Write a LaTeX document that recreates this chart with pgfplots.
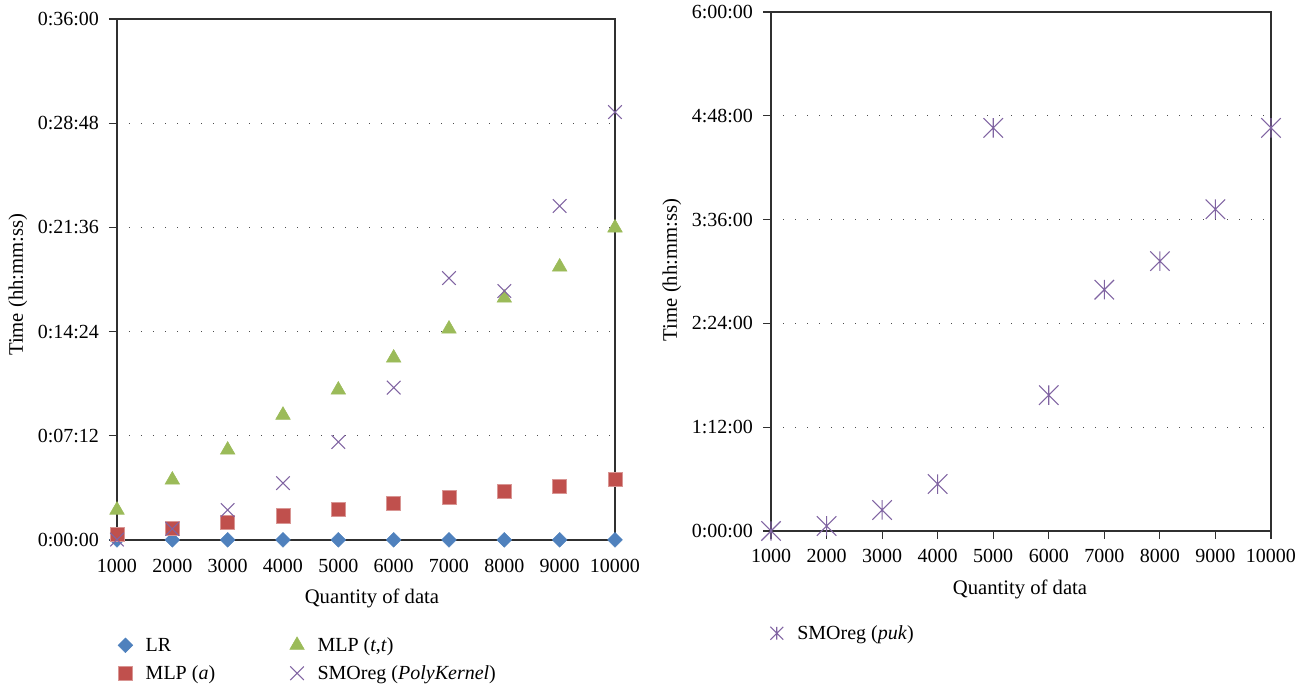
\documentclass[border=0pt]{standalone}
\usepackage{fontspec}
\setmainfont{Liberation Serif}
\usepackage{pgfplots}
\pgfplotsset{compat=1.18}
\definecolor{cLR}{HTML}{4F81BD}
\definecolor{cMa}{HTML}{C0504D}
\definecolor{cMtt}{HTML}{9BBB59}
\definecolor{cSMO}{HTML}{8064A2}
\definecolor{axc}{HTML}{303030}
\pgfdeclareplotmark{xstar}{%
  \pgfpathmoveto{\pgfqpoint{-\pgfplotmarksize}{-\pgfplotmarksize}}%
  \pgfpathlineto{\pgfqpoint{\pgfplotmarksize}{\pgfplotmarksize}}%
  \pgfpathmoveto{\pgfqpoint{-\pgfplotmarksize}{\pgfplotmarksize}}%
  \pgfpathlineto{\pgfqpoint{\pgfplotmarksize}{-\pgfplotmarksize}}%
  \pgfpathmoveto{\pgfqpoint{0pt}{-\pgfplotmarksize}}%
  \pgfpathlineto{\pgfqpoint{0pt}{\pgfplotmarksize}}%
  \pgfusepathqstroke}
\pgfplotsset{
  common/.style={
    scale only axis,
    clip=false,
    xmin=1, xmax=10,
    xtick={1,2,3,4,5,6,7,8,9,10},
    xticklabels={1000,2000,3000,4000,5000,6000,7000,8000,9000,10000},
    xtick pos=bottom, ytick pos=left,
    axis line style={axc, line width=0.8pt},
    tick style={axc, line width=0.8pt},
    ytick align=outside,
    major tick length=6pt,
    ymajorgrids,
    major grid style={black!70, line width=0.75pt, dash pattern=on 0.75pt off 8.25pt},
    yticklabel style={xshift=-4pt},
    xlabel={Quantity of data},
    ylabel={Time (hh:mm:ss)},
    label style={font=\fontsize{15.5}{18}\selectfont},
    legend style={draw=none, fill=none, inner sep=0pt, column sep=0pt,
      nodes={text height=11pt, text depth=4pt, inner ysep=3pt, inner xsep=4pt, anchor=base west}},
    legend cell align=left,
    legend image code/.code={\path (0pt,0pt) (22pt,10pt);\draw[mark repeat=2,mark phase=2,##1] plot coordinates {(0pt,5pt) (11pt,5pt) (22pt,5pt)};},
  },
  pukleg/.style={legend image code/.code={\path (0pt,0pt) (22pt,10pt);\draw[mark repeat=2,mark phase=2,##1,mark size=4.8pt] plot coordinates {(0pt,5pt) (11pt,5pt) (22pt,5pt)};}},
}
\begin{document}
\begin{tikzpicture}[font=\fontsize{15}{18}\selectfont]
\path[use as bounding box] (0,0) rectangle (980.25pt,516pt);
% ---------------- left axis ----------------
\begin{axis}[common,
  at={(87.75pt,111pt)}, anchor=south west,
  width=373.5pt, height=390.75pt,
  ymin=0, ymax=36,
  ytick={0,7.2,14.4,21.6,28.8,36},
  yticklabels={0:00:00,0:07:12,0:14:24,0:21:36,0:28:48,0:36:00},
  xtick style={draw=none},
  xticklabel style={yshift=-11pt},
  xlabel style={at={(axis description cs:0.512,-0.112)}, anchor=center},
  ylabel style={at={(axis description cs:-0.199,0.49)}, anchor=center},
  legend columns=2, transpose legend,
  legend style={at={(axis description cs:-0.0135,-0.1785)}, anchor=north west,
    /tikz/column 2/.style={column sep=46pt}},
]
\addplot[only marks, mark=square*, mark size=3.9pt, color=cLR, mark options={rotate=45}]
  coordinates {(1,0.01) (2,0.01) (3,0.01) (4,0.01) (5,0.01) (6,0.01) (7,0.01) (8,0.01) (9,0.01) (10,0.01)};
\addlegendentry{LR}
\addplot[only marks, mark=square*, mark size=5.3pt, color=cMa, mark options={draw=cMa!60!white, fill=cMa}]
  coordinates {(1,0.42) (2,0.83) (3,1.25) (4,1.67) (5,2.13) (6,2.55) (7,2.97) (8,3.38) (9,3.73) (10,4.22)};
\addlegendentry{MLP (\textit{a})}
\addplot[only marks, mark=triangle*, mark size=6.3pt, color=cMtt]
  coordinates {(1,2.07) (2,4.15) (3,6.22) (4,8.63) (5,10.37) (6,12.58) (7,14.58) (8,16.72) (9,18.87) (10,21.57)};
\addlegendentry{MLP (\textit{t},\textit{t})}
\addplot[only marks, mark=x, mark size=7.2pt, color=cSMO, line width=0.8pt]
  coordinates {(1,0.03) (2,0.77) (3,2.07) (4,3.93) (5,6.77) (6,10.53) (7,18.1) (8,17.2) (9,23.08) (10,29.57)};
\addlegendentry{SMOreg (\textit{PolyKernel})}
\end{axis}
% ---------------- right axis ----------------
\begin{axis}[common,
  at={(578.25pt,117.75pt)}, anchor=south west,
  width=375pt, height=389.25pt,
  ymin=0, ymax=6,
  ytick={0,1.2,2.4,3.6,4.8,6},
  yticklabels={0:00:00,1:12:00,2:24:00,3:36:00,4:48:00,6:00:00},
  xtick align=outside,
  xticklabel style={yshift=-4pt},
  xlabel style={at={(axis description cs:0.498,-0.113)}, anchor=center},
  ylabel style={at={(axis description cs:-0.198,0.503)}, anchor=center},
  legend style={at={(axis description cs:-0.0194,-0.1734)}, anchor=north west},
]
\addplot[only marks, mark=xstar, mark size=7.3pt, color=cSMO, line width=0.8pt, pukleg]
  coordinates {(1,0.0) (2,0.058) (3,0.243) (4,0.543) (5,4.66) (6,1.57) (7,2.79) (8,3.12) (9,3.72) (10,4.66)};
\addlegendentry{SMOreg (\textit{puk})}
\end{axis}
\end{tikzpicture}
\end{document}
